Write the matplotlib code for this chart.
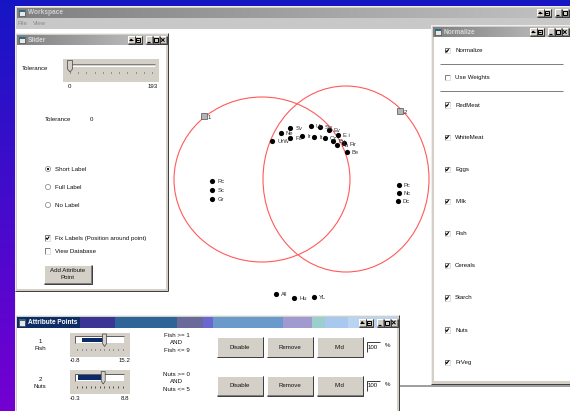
import numpy as np
import matplotlib
matplotlib.use("Agg")
import matplotlib.pyplot as plt
from matplotlib.patches import Rectangle, Ellipse, Circle, Polygon
from matplotlib.colors import to_rgb

plt.rcParams['font.family'] = ['Liberation Sans', 'DejaVu Sans']

# ---------------- data ----------------
point_labels = ["Rc", "Sc", "Gr", "Pc", "Nc", "Dc", "All", "Hu", "YL",
                "UrW", "Ne", "Sv", "Fc", "Ir", "Uc", "It", "Sw", "Cz", "Ev",
                "Bu", "Au", "E i", "Fir", "Be"]
point_x = [212.3, 212.3, 212.3, 398.7, 398.7, 397.7, 275.7, 294.3, 314.0,
           272.0, 281.0, 290.3, 290.3, 302.0, 310.7, 314.0, 319.7, 325.0, 329.0,
           333.3, 336.7, 338.0, 344.0, 347.0]
point_y = [181.0, 190.0, 198.7, 184.7, 193.0, 200.7, 294.3, 297.7, 297.3,
           141.3, 132.7, 127.7, 137.7, 135.7, 125.7, 136.7, 126.7, 138.3, 130.0,
           140.7, 145.0, 134.7, 143.5, 151.7]

anchor_labels = ["1", "2"]
anchor_x = [204.0, 400.0]
anchor_y = [116.0, 111.0]

region_cx = [262.0, 346.0]
region_cy = [179.5, 179.0]
region_w = [176.0, 166.0]
region_h = [165.0, 186.0]

tol_min, tol_max, tol_value = 0, 193, 0

norm_items = ["Normalize", "Use Weights", "RedMeat", "WhiteMeat", "Eggs", "Milk",
              "Fish", "Cereals", "Starch", "Nuts", "FrVeg"]
norm_checked = [1, 0, 1, 1, 1, 1, 1, 1, 1, 1, 1]

attr_names = ["Fish", "Nuts"]
attr_min = [-0.8, -0.3]
attr_max = [15.2, 8.8]
attr_lo = [1, 0]
attr_hi = [9, 5]
attr_pct = [100, 100]

slider_options = ["Short Label", "Full Label", "No Label"]
slider_selected = 0
slider_checks = ["Fix Labels (Position around point)", "View Database"]
slider_checked = [1, 0]

# ---------------- drawing helpers ----------------
FACE = '#d4d0c8'
PX = 0.72
FS = 4.4

fig = plt.figure(figsize=(5.7, 4.11), dpi=100)
ax = fig.add_axes([0, 0, 1, 1])
ax.axis('off')


def rect(x, y, w, h, fc='none', ec='none', lw=0, z=1):
    ax.add_patch(Rectangle((x, y), w, h, facecolor=fc, edgecolor=ec,
                           linewidth=lw, zorder=z))


def line(xs, ys, c, lw=1, z=1):
    ax.plot(xs, ys, color=c, lw=lw * PX, zorder=z, solid_capstyle='butt')


def hgrad(x0, x1, y0, y1, c0, c1, z):
    c0 = np.array(to_rgb(c0)); c1 = np.array(to_rgb(c1))
    t = np.linspace(0, 1, 256)[None, :, None]
    img = c0 + (c1 - c0) * t
    ax.imshow(img, extent=(x0, x1, y1, y0), aspect='auto', zorder=z,
              interpolation='bilinear')


def vgrad(x0, x1, y0, y1, c0, c1, z):
    c0 = np.array(to_rgb(c0)); c1 = np.array(to_rgb(c1))
    t = np.linspace(0, 1, 256)[:, None, None]
    img = c0 + (c1 - c0) * t
    ax.imshow(img, extent=(x0, x1, y1, y0), aspect='auto', zorder=z,
              interpolation='bilinear')


def bevel(x, y, w, h, z, face=FACE, raised=True):
    rect(x, y, w, h, fc=face, z=z)
    hi, lo = ('white', '#808080') if raised else ('#808080', 'white')
    line([x, x, x + w], [y + h, y, y], hi, 1, z + 0.1)
    line([x, x + w, x + w], [y + h, y + h, y], lo, 1, z + 0.1)
    if raised:
        line([x, x + w + 0.6, x + w + 0.6], [y + h + 0.6, y + h + 0.6, y], '#404040', 1, z + 0.1)


def text(x, y, s, z, fs=FS, ha='left', color='#101010', bold=False, va='center'):
    ax.text(x, y, s, fontsize=fs, ha=ha, va=va, color=color, zorder=z,
            fontweight='bold' if bold else 'normal')


def title_buttons(xr, y, z):
    w, h = 6.5, 7
    xs = [xr - w, xr - 2 * w - 0.5, xr - 3 * w - 1, xr - 4 * w - 5, xr - 5 * w - 5.5]
    for i, bx in enumerate(xs):
        bevel(bx, y, w, h, z)
        cx, cy = bx + w / 2, y + h / 2
        if i == 0:
            line([cx - 1.8, cx + 1.8], [cy - 1.8, cy + 1.8], 'black', 1, z + 0.2)
            line([cx - 1.8, cx + 1.8], [cy + 1.8, cy - 1.8], 'black', 1, z + 0.2)
        elif i == 1:
            rect(cx - 2, cy - 2, 4, 4, ec='black', lw=PX, z=z + 0.2)
            line([cx - 2, cx + 2], [cy - 1.6, cy - 1.6], 'black', 1, z + 0.2)
        elif i == 2:
            line([cx - 2, cx + 1], [cy + 2, cy + 2], 'black', 1.2, z + 0.2)
        elif i == 3:
            rect(cx - 2, cy - 2, 4, 4, ec='black', lw=PX, z=z + 0.2)
            line([cx - 2, cx + 1], [cy, cy], 'black', 1, z + 0.2)
        else:
            line([cx - 2, cx + 2], [cy, cy], 'black', 1, z + 0.2)
            ax.add_patch(Circle((cx, cy), 1.2, fc='black', zorder=z + 0.2))


def window(x, y, w, h, title, z, th=10, grad=('#808080', '#c8c8c8'),
           segs=None, tcolor='#d8d8d8', btn_right=None):
    rect(x, y, w, h, fc=FACE, z=z)
    line([x, x, x + w], [y + h, y, y], '#eeeeee', 1, z + 0.1)
    line([x + w, x + w], [y, y + h], '#404040', 1, z + 0.1)
    line([x, x + w], [y + h, y + h], '#404040', 1, z + 0.1)
    if segs is None:
        hgrad(x + 2, x + w - 2, y + 2, y + 2 + th, grad[0], grad[1], z + 0.2)
    else:
        for (sx0, sx1, sc) in segs:
            rect(sx0, y + 2, sx1 - sx0, th, fc=sc, z=z + 0.2)
    rect(x + 4, y + 4, 6, th - 4, fc='#e8e8e8', ec='#303030', lw=0.4, z=z + 0.3)
    rect(x + 4, y + 4, 6, 2, fc='#2a6a8a', z=z + 0.35)
    text(x + 13, y + 2 + th / 2, title, z + 0.4, fs=4.7, color=tcolor, bold=True)
    xr = btn_right if btn_right is not None else x + w - 2
    title_buttons(xr, y + 2 + (th - 7) / 2, z + 0.5)
    return y + 2 + th


def checkbox(x, y, checked, z):
    rect(x, y - 2.6, 5.2, 5.2, fc='white', z=z)
    line([x, x, x + 5.2], [y + 2.6, y - 2.6, y - 2.6], '#808080', 1, z + 0.1)
    line([x, x + 5.2, x + 5.2], [y + 2.6, y + 2.6, y - 2.6], '#e0e0e0', 1, z + 0.1)
    if checked:
        line([x + 1.1, x + 2.2, x + 4.2], [y - 0.2, y + 1.4, y - 1.5], 'black', 1.1, z + 0.2)


# ---------------- background ----------------
vgrad(0, 570, 0, 411, '#1616c4', '#7400d2', 0)

# ---------------- workspace ----------------
ty = window(15, 6, 570, 420, "Workspace", 1, th=10, grad=('#808080', '#c4c4c4'),
            tcolor='#d0d0d0', btn_right=575)
rect(16, ty, 560, 11, fc='#c8c8c8', z=1.5)
text(18, ty + 5.5, "File", 1.6, color='#8a8a8a')
text(33, ty + 5.5, "View", 1.6, color='#8a8a8a')
rect(16, ty + 11, 560, 400, fc='white', z=1.5)

for cx, cy, w, h in zip(region_cx, region_cy, region_w, region_h):
    ax.add_patch(Ellipse((cx, cy), w, h, fill=False, ec='#ff5a5a', lw=0.8, zorder=2))

for lab, x, y in zip(anchor_labels, anchor_x, anchor_y):
    rect(x - 3, y - 3, 6, 6, fc='#b4b4b4', ec='#505050', lw=0.5, z=3)
    text(x + 3.5, y + 1, lab, 3, fs=FS, color='#303030')

ax.scatter(point_x, point_y, s=14, c='black', zorder=3, linewidths=0)
for lab, x, y in zip(point_labels, point_x, point_y):
    text(x + 5, y + 0.5, lab, 3.1, fs=4.2, color='#303030')

line([398, 398], [318, 411], '#a0a0a0', 2, 4)
line([398, 570], [386, 386], '#a0a0a0', 2, 4)

# ---------------- slider window ----------------
Z = 10
ty = window(15, 33, 153, 258, "Slider", Z, th=10, grad=('#808080', '#c8c8c8'))
rect(17, ty, 149, 258 - (ty - 33) - 2, fc='white', z=Z + 0.3)
text(22, 68, "Tolerance", Z + 1)
rect(63, 59, 96, 23, fc=FACE, z=Z + 0.5)
line([68, 155], [64.5, 64.5], '#808080', 1, Z + 0.6)
line([68, 155], [66, 66], 'white', 1, Z + 0.6)
for tx in np.linspace(70, 152, 11):
    line([tx, tx], [72, 73.5], '#303030', 0.8, Z + 0.6)
thumb_x = 70 + (tol_value - tol_min) / (tol_max - tol_min) * (152 - 70)
ax.add_patch(Polygon([[thumb_x - 2.5, 60.5], [thumb_x + 2.5, 60.5], [thumb_x + 2.5, 69],
                      [thumb_x, 72], [thumb_x - 2.5, 69]], closed=True,
                     fc=FACE, ec='#404040', lw=0.5, zorder=Z + 0.7))
text(69, 86.5, str(tol_min), Z + 1, ha='center')
text(153, 86.5, str(tol_max), Z + 1, ha='center')
text(45, 119, "Tolerance", Z + 1)
text(90, 119, str(tol_value), Z + 1)

for i, opt in enumerate(slider_options):
    yy = 169 + 18 * i
    ax.add_patch(Circle((48, yy), 2.6, fc='white', ec='#808080', lw=0.5, zorder=Z + 1))
    if i == slider_selected:
        ax.add_patch(Circle((48, yy), 1.1, fc='black', zorder=Z + 1.1))
    text(55, yy, opt, Z + 1)
for i, opt in enumerate(slider_checks):
    yy = 238 + 13 * i
    checkbox(45, yy, slider_checked[i], Z + 1)
    text(55, yy, opt, Z + 1)
bevel(44, 265, 47, 18, Z + 1)
text(67.5, 270.5, "Add Attribute", Z + 1.5, ha='center')
text(67.5, 277.5, "Point", Z + 1.5, ha='center')

# ---------------- normalize window ----------------
Z = 12
ty = window(431, 25, 144, 359, "Normalize", Z, th=10, grad=('#808080', '#c8c8c8'),
            btn_right=568)
rect(434, ty, 139, 359 - (ty - 25) - 3, fc='white', z=Z + 0.3)
norm_y = [50.7, 77.7] + [105 + 32.15 * i for i in range(len(norm_items) - 2)]
for lab, chk, yy in zip(norm_items, norm_checked, norm_y):
    checkbox(444.5, yy, chk, Z + 1)
    text(455, yy, lab, Z + 1)
for yy in [64, 91.5]:
    line([440, 563], [yy, yy], '#808080', 1, Z + 1)
    line([440, 563], [yy + 0.8, yy + 0.8], 'white', 1, Z + 1)

# ---------------- attribute points window ----------------
Z = 20
segs = [(17, 80, '#0e2c66'), (80, 115, '#3a3594'), (115, 177, '#2f6498'),
        (177, 203, '#6a6a9a'), (203, 213, '#6a68d0'), (213, 283, '#6a9acb'),
        (283, 312, '#a09ad0'), (312, 325, '#9acfcc'), (325, 348, '#a8c8f0'),
        (348, 397, '#b8d4f0')]
ty = window(15, 315, 384, 110, "Attribute Points", Z, th=11, segs=segs,
            tcolor='white', btn_right=397)
rect(17, ty, 380, 100, fc='white', z=Z + 0.3)

for i, name in enumerate(attr_names):
    oy = 37.5 * i
    text(40, 341.7 + oy, str(i + 1), Z + 1, ha='center')
    text(40, 348.5 + oy, name, Z + 1, ha='center')
    rect(70, 332.7 + oy, 60, 24, fc=FACE, z=Z + 0.5)
    tx0, tx1 = 75, 124
    rect(tx0, 336 + oy, tx1 - tx0, 7, fc='white', z=Z + 0.6)
    line([tx0, tx0, tx1], [343 + oy, 336 + oy, 336 + oy], '#606060', 1, Z + 0.65)
    span = attr_max[i] - attr_min[i]
    lo_x = tx0 + 2 + (attr_lo[i] - attr_min[i]) / span * (tx1 - tx0 - 4)
    hi_x = tx0 + 2 + (attr_hi[i] - attr_min[i]) / span * (tx1 - tx0 - 4)
    rect(lo_x, 337.5 + oy, hi_x - lo_x, 4.5, fc='#0a2a6a', z=Z + 0.7)
    ax.add_patch(Polygon([[hi_x - 2, 334 + oy], [hi_x + 2, 334 + oy], [hi_x + 2, 343.5 + oy],
                          [hi_x, 346.5 + oy], [hi_x - 2, 343.5 + oy]], closed=True,
                         fc=FACE, ec='#404040', lw=0.5, zorder=Z + 0.8))
    for tx in np.linspace(77, 122.5, 11):
        line([tx, tx], [348.5 + oy, 350 + oy], '#303030', 0.8, Z + 0.6)
    text(75, 360.5 + oy, f"{attr_min[i]:g}", Z + 1, ha='center')
    text(125, 360.5 + oy, f"{attr_max[i]:g}", Z + 1, ha='center')
    d = 1.5 if i else 0
    text(176.7, 335.8 + oy + d, f"{name} >= {attr_lo[i]:g}", Z + 1, ha='center')
    text(176.7, 342.8 + oy + d, "AND", Z + 1, ha='center')
    text(176.7, 350.5 + oy + d, f"{name} <= {attr_hi[i]:g}", Z + 1, ha='center')
    by = 337 + oy + (1.3 if i else 0)
    for bx, lab in zip([216.7, 266.7, 316.7], ["Disable", "Remove", "Mid"]):
        bevel(bx, by, 46, 19.5, Z + 1)
        text(bx + 23, by + 10, lab, Z + 1.5, ha='center')
    rect(366.7, by + 5, 13.3, 9.7, fc='white', z=Z + 1)
    line([366.7, 366.7, 380], [by + 14.7, by + 5, by + 5], '#404040', 1, Z + 1.1)
    text(368, by + 10, str(attr_pct[i]), Z + 1.5)
    text(387.5, by + 8.5, "%", Z + 1.5, ha='center')

ax.set_xlim(0, 570)
ax.set_ylim(411, 0)
fig.savefig("out.png", dpi=100)
